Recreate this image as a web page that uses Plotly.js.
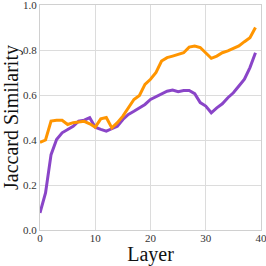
<!DOCTYPE html>
<html>
<head>
<meta charset="utf-8">
<script src="https://cdn.plot.ly/plotly-3.0.1.min.js"></script>
<style>html,body{margin:0;padding:0;background:#fff;}#chart{width:266px;height:266px;}</style>
</head>
<body>
<div id="chart"></div>
<script>
const layers = Array.from({length: 40}, (_, i) => i);
const orangeSeries = [0.389, 0.40, 0.484, 0.488, 0.488, 0.469, 0.477, 0.481, 0.483, 0.472,
  0.457, 0.494, 0.50, 0.454, 0.477, 0.506, 0.543, 0.58, 0.598, 0.647,
  0.67, 0.70, 0.751, 0.766, 0.773, 0.781, 0.788, 0.813, 0.818, 0.811,
  0.788, 0.763, 0.773, 0.788, 0.796, 0.806, 0.818, 0.837, 0.855, 0.90];
const purpleSeries = [0.076, 0.165, 0.335, 0.402, 0.432, 0.447, 0.461, 0.484, 0.488, 0.499,
  0.457, 0.447, 0.439, 0.45, 0.461, 0.491, 0.514, 0.528, 0.543, 0.558,
  0.58, 0.592, 0.607, 0.617, 0.622, 0.615, 0.620, 0.620, 0.606, 0.566,
  0.551, 0.521, 0.543, 0.561, 0.588, 0.61, 0.64, 0.67, 0.722, 0.788];
const xTicks = [0, 10, 20, 30, 40];
const yTicks = [0.0, 0.2, 0.4, 0.6, 0.8, 1.0];

const font = {family: '"Liberation Serif", "DejaVu Serif", serif', color: '#222'};
const traces = [
  {x: layers, y: purpleSeries, mode: 'lines', line: {color: '#8a45c8', width: 3}, showlegend: false},
  {x: layers, y: orangeSeries, mode: 'lines', line: {color: '#ff9500', width: 3}, showlegend: false}
];
const layout = {
  width: 266, height: 266,
  margin: {l: 40, r: 5, t: 5, b: 36},
  paper_bgcolor: '#fff', plot_bgcolor: '#fff',
  font: font,
  xaxis: {
    range: [0, 40], tickvals: xTicks, ticktext: xTicks.map(String),
    title: {text: 'Layer', font: {family: font.family, size: 20, color: '#111'}, standoff: 5},
    tickfont: {family: font.family, size: 11, color: '#333'},
    ticklabeloverflow: 'allow', ticklabelstandoff: -2,
    showgrid: true, gridcolor: '#dcdcdc', gridwidth: 1,
    showline: true, linecolor: '#d0d0d0', linewidth: 1, mirror: true,
    zeroline: false, ticks: '', ticklen: 0
  },
  yaxis: {
    range: [0, 1], tickvals: yTicks, ticktext: yTicks.map(v => v.toFixed(1)),
    title: {text: 'Jaccard Similarity', font: {family: font.family, size: 20, color: '#111'}, standoff: 4},
    tickfont: {family: font.family, size: 11, color: '#333'},
    ticklabeloverflow: 'allow',
    showgrid: true, gridcolor: '#dcdcdc', gridwidth: 1,
    showline: true, linecolor: '#d0d0d0', linewidth: 1, mirror: true,
    zeroline: false, ticks: '', ticklen: 0
  }
};
Plotly.newPlot('chart', traces, layout, {staticPlot: true, displayModeBar: false});
</script>
</body>
</html>
